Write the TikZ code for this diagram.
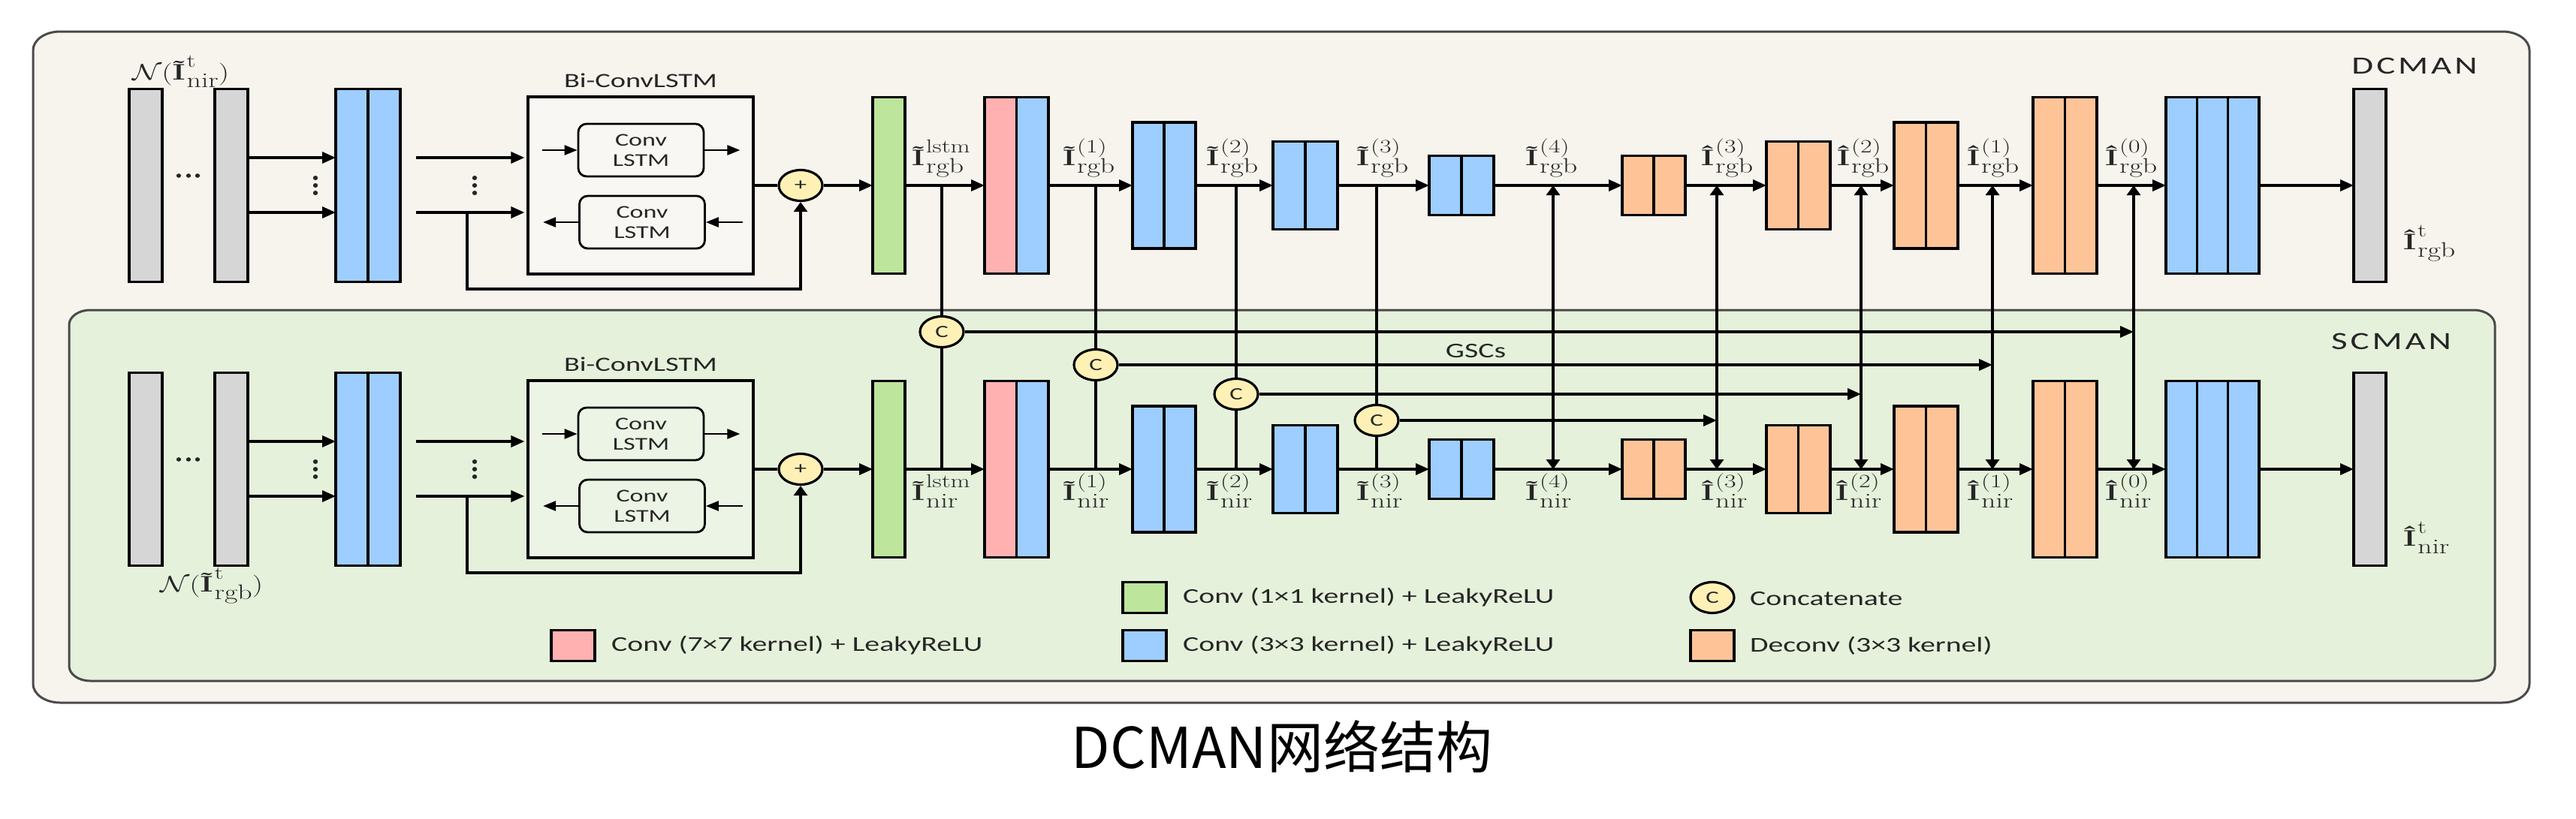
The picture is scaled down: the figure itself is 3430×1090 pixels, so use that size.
\IfFileExists{fix-cm.sty}{\RequirePackage{fix-cm}}{}
\documentclass[tikz,border=0pt]{standalone}
\usepackage{fontspec}
\usepackage{graphicx}
\usetikzlibrary{arrows.meta,calc,shapes.geometric}
\newfontfamily\cf[FakeStretch=1.42]{Carlito}
\newfontfamily\cfw[FakeStretch=1.42,LetterSpace=12]{Carlito}
\newfontfamily\cjk{Noto Sans CJK SC}
\definecolor{bgout}{HTML}{F7F4EE}
\definecolor{bgin}{HTML}{E5F1DB}
\definecolor{cgrey}{HTML}{D6D6D6}
\definecolor{cblue}{HTML}{9DCEFF}
\definecolor{cgreen}{HTML}{BDE59B}
\definecolor{cpink}{HTML}{FFB1B1}
\definecolor{corange}{HTML}{FFC398}
\definecolor{cyel}{HTML}{FFF1B5}
\definecolor{ink}{HTML}{262626}
\definecolor{frame}{HTML}{4A4A4A}
% accented I with stacked superscript / subscript
\newcommand\supsub[2]{%
  \setbox0\hbox{\fontsize{25}{25}\selectfont #1}%
  \setbox2\hbox{\fontsize{28}{28}\selectfont #2}%
  \dimen0=\wd0 \ifdim\wd2>\dimen0 \dimen0=\wd2 \fi
  \rlap{\raise17pt\box0}\rlap{\lower10pt\box2}\kern\dimen0 }
\newcommand\lbl[3]{\scalebox{1.35}[1]{\fontsize{30}{30}\selectfont\textbf{#1}\kern1.5pt\supsub{#2}{#3}}}
\newcommand\nlbl[3]{\scalebox{1.35}[1]{\fontsize{30}{30}\selectfont$\mathcal{N}$(\textbf{#1}\kern1.5pt\supsub{#2}{#3})}}
\newcommand\erect[7]{%
  \path[#7] ({#1+#5},#2) -- ({#3-#5},#2)
    arc[start angle=90,end angle=0,x radius=#5pt,y radius=#6pt] -- (#3,{#4-#6})
    arc[start angle=0,end angle=-90,x radius=#5pt,y radius=#6pt] -- ({#1+#5},#4)
    arc[start angle=-90,end angle=-180,x radius=#5pt,y radius=#6pt] -- (#1,{#2+#6})
    arc[start angle=180,end angle=90,x radius=#5pt,y radius=#6pt] -- cycle;}
\newcommand\blk[7]{% name, xleft, ycenter, height, unit width, n, colours
  \foreach \blkc [count=\blki from 0] in {#7} {
    \draw[blkline, fill=\blkc] ({#2+\blki*#5},{#3-#4/2}) rectangle ++(#5,#4);
  }
  \node[inner sep=0pt, outer sep=0pt, minimum width={#6*#5}, minimum height=#4, anchor=west] (#1) at (#2,#3) {};}
\tikzset{
  blkline/.style={line width=3.5pt, draw=black},
  flow/.style={line width=3.5pt, draw=black},
  harr/.style={-{Triangle[length=18pt,width=15pt]}},
  varr/.style={-{Triangle[length=13pt,width=18pt]}},
  dbl/.style={{Triangle[length=13pt,width=18pt]}-{Triangle[length=13pt,width=18pt]}},
  sarr/.style={line width=2.6pt, draw=black, -{Triangle[length=17pt,width=13pt]}},
  opnode/.style={ellipse, draw=black, line width=3.2pt, fill=cyel, minimum width=58pt, minimum height=41pt, inner sep=0pt, font=\cf\fontsize{23}{23}\selectfont, text=ink},
  lstmbox/.style={draw=black, line width=2.8pt, rounded corners=11pt, minimum width=167pt, minimum height=70pt, inner sep=0pt, align=center, font=\cf\fontsize{24}{27}\selectfont, text=ink},
  bibox/.style={draw=black, line width=3.2pt, fill=white, fill opacity=0.3, minimum width=300pt, minimum height=236pt, inner sep=0pt},
  lab/.style={anchor=base west, inner sep=0pt, text=ink},
  ttl/.style={anchor=base, inner sep=0pt, text=ink},
  leg/.style={anchor=west, inner sep=0pt, font=\cf\fontsize{28}{28}\selectfont, text=ink},
  legbox/.style={draw=black, line width=3.2pt, minimum width=58pt, minimum height=41pt, inner sep=0pt},
}
\begin{document}
\begin{tikzpicture}[x=1pt,y=-1pt]
\useasboundingbox (0,0) rectangle (3430,1090);
\fill[white] (0,0) rectangle (3430,1090);
\erect{44}{42}{3368}{936}{36}{25}{fill=bgout,draw=frame,line width=3pt}
\erect{92}{413}{3322}{907}{28}{20}{fill=bgin,draw=frame,line width=3pt}

\foreach \rw/\yc in {T/247,B/625}{
  % input frames and first conv
  \blk{ga\rw}{172}{\yc}{257}{44}{1}{cgrey}
  \blk{gb\rw}{286}{\yc}{257}{44}{1}{cgrey}
  \blk{ba\rw}{447}{\yc}{257}{43}{2}{cblue,cblue}
  \foreach \dx in {238,251,263} {\fill[ink] (\dx,{\yc-13}) ellipse [x radius=3.2pt, y radius=2.8pt];}
  \foreach \dy in {-10,0,10} {
    \fill[ink] (420,{\yc+(\dy)}) ellipse [x radius=3.2pt, y radius=3pt];
    \fill[ink] (632,{\yc+(\dy)}) ellipse [x radius=3.2pt, y radius=3pt];
  }
  \draw[flow,harr] ($(gb\rw.east)+(0,-37)$) -- ($(ba\rw.west)+(0,-37)$);
  \draw[flow,harr] ($(gb\rw.east)+(0,36)$) -- ($(ba\rw.west)+(0,36)$);
  % Bi-ConvLSTM
  \node[bibox] (bi\rw) at (853,\yc) {};
  \node[ttl,font=\cf\fontsize{27}{27}\selectfont] (bl\rw) at (853,{\yc-131}) {Bi-ConvLSTM};
  \node[lstmbox] (cu\rw) at (853.5,{\yc-47}) {Conv\\LSTM};
  \node[lstmbox] (cl\rw) at (855,{\yc+49}) {Conv\\LSTM};
  \draw[sarr] ($(cu\rw.west)+(-47,0)$) -- (cu\rw.west);
  \draw[sarr] (cu\rw.east) -- ++(47,0);
  \draw[sarr] ($(cl\rw.east)+(49,0)$) -- (cl\rw.east);
  \draw[sarr] (cl\rw.west) -- ++(-47,0);
  \draw[flow,harr] ($(ba\rw.east)+(21,-37)$) -- ($(bi\rw.west)+(-3,-37)$);
  \draw[flow,harr] ($(ba\rw.east)+(21,36)$) -- ($(bi\rw.west)+(-3,36)$);
  \node[opnode] (pl\rw) at (1066,\yc) {+};
  \coordinate (br\rw) at (622,{\yc+36});
  \coordinate (bd\rw) at (622,{\yc+138});
  \draw[flow,varr] (br\rw) -- (bd\rw) -| (pl\rw.south);
  \draw[flow] (bi\rw.east) -- (pl\rw.west);
  % encoder / decoder
  \blk{gr\rw}{1162}{\yc}{235}{43}{1}{cgreen}
  \blk{pb\rw}{1311}{\yc}{235}{42.5}{2}{cpink,cblue}
  \blk{bb\rw}{1508}{\yc}{168}{42}{2}{cblue,cblue}
  \blk{bc\rw}{1695}{\yc}{117}{43}{2}{cblue,cblue}
  \blk{bd\rw}{1903}{\yc}{79}{43}{2}{cblue,cblue}
  \blk{oa\rw}{2160}{\yc}{79}{42}{2}{corange,corange}
  \blk{ob\rw}{2352}{\yc}{117}{42.5}{2}{corange,corange}
  \blk{oc\rw}{2522}{\yc}{168}{42.5}{2}{corange,corange}
  \blk{od\rw}{2707}{\yc}{235}{42.5}{2}{corange,corange}
  \blk{be\rw}{2884}{\yc}{235}{41.3}{3}{cblue,cblue,cblue}
  \blk{go\rw}{3134}{\yc}{257}{43}{1}{cgrey}
  \foreach \pa/\pb in {pl/gr,gr/pb,pb/bb,bb/bc,bc/bd,bd/oa,oa/ob,ob/oc,oc/od,od/be,be/go}
    {\draw[flow,harr] (\pa\rw.east) -- (\pb\rw.west);}
  \coordinate (v0\rw) at (1254,\yc);
  \coordinate (v1\rw) at (1459,\yc);
  \coordinate (v2\rw) at (1646,\yc);
  \coordinate (v3\rw) at (1833,\yc);
  \coordinate (d4\rw) at (2068,\yc);
  \coordinate (d3\rw) at (2286,\yc);
  \coordinate (d2\rw) at (2478,\yc);
  \coordinate (d1\rw) at (2653,\yc);
  \coordinate (d0\rw) at (2841,\yc);
}

% concatenations (GSCs)
\node[opnode] (c0) at (1254,442) {C};
\node[opnode] (c1) at (1459,486) {C};
\node[opnode] (c2) at (1646,525) {C};
\node[opnode] (c3) at (1833,560) {C};
\foreach \i in {0,...,3} {\draw[flow] (v\i T) -- (c\i) -- (v\i B);}
\foreach \i in {0,...,4} {\draw[flow,dbl] (d\i B) -- (d\i T);}
\foreach \i in {0,...,3} {\draw[flow,harr] (c\i.east) -- (c\i.east -| d\i T);}
\node[font=\cf\fontsize{28}{28}\selectfont, text=ink] (gsc) at (1965,468) {GSCs};

% labels, DCMAN row
\node[lab] (n0T) at (176,106) {\nlbl{Ĩ}{t}{nir}};
\node[lab] (l0T) at (1214,220) {\lbl{Ĩ}{lstm}{rgb}};
\node[lab] (l1T) at (1415,220) {\lbl{Ĩ}{(1)}{rgb}};
\node[lab] (l2T) at (1606,220) {\lbl{Ĩ}{(2)}{rgb}};
\node[lab] (l3T) at (1806,220) {\lbl{Ĩ}{(3)}{rgb}};
\node[lab] (l4T) at (2031,220) {\lbl{Ĩ}{(4)}{rgb}};
\node[lab] (h3T) at (2265,220) {\lbl{Î}{(3)}{rgb}};
\node[lab] (h2T) at (2446,220) {\lbl{Î}{(2)}{rgb}};
\node[lab] (h1T) at (2619,220) {\lbl{Î}{(1)}{rgb}};
\node[lab] (h0T) at (2803,220) {\lbl{Î}{(0)}{rgb}};
\node[lab] (oT) at (3200,332) {\lbl{Î}{t}{rgb}};
\node[ttl,font=\cfw\fontsize{33}{33}\selectfont] (tD) at (3215,98) {DCMAN};

% labels, SCMAN row
\node[lab] (n0B) at (213,788) {\nlbl{Ĩ}{t}{rgb}};
\node[lab] (l0B) at (1214,666) {\lbl{Ĩ}{lstm}{nir}};
\node[lab] (l1B) at (1415,666) {\lbl{Ĩ}{(1)}{nir}};
\node[lab] (l2B) at (1606,666) {\lbl{Ĩ}{(2)}{nir}};
\node[lab] (l3B) at (1806,666) {\lbl{Ĩ}{(3)}{nir}};
\node[lab] (l4B) at (2031,666) {\lbl{Ĩ}{(4)}{nir}};
\node[lab] (h3B) at (2265,666) {\lbl{Î}{(3)}{nir}};
\node[lab] (h2B) at (2444,666) {\lbl{Î}{(2)}{nir}};
\node[lab] (h1B) at (2619,666) {\lbl{Î}{(1)}{nir}};
\node[lab] (h0B) at (2803,666) {\lbl{Î}{(0)}{nir}};
\node[lab] (oB) at (3200,727) {\lbl{Î}{t}{nir}};
\node[ttl,font=\cfw\fontsize{33}{33}\selectfont] (tS) at (3184,465) {SCMAN};

% legend
\node[legbox, fill=cgreen] (lgG) at (1524,796) {};
\node[leg] (ltG) at (1575,796) {Conv (1×1 kernel) + LeakyReLU};
\node[legbox, fill=cpink] (lgP) at (763,860) {};
\node[leg] (ltP) at (814,860) {Conv (7×7 kernel) + LeakyReLU};
\node[legbox, fill=cblue] (lgB) at (1524,860) {};
\node[leg] (ltB) at (1575,860) {Conv (3×3 kernel) + LeakyReLU};
\node[opnode] (lgC) at (2280,796) {C};
\node[leg] (ltC) at (2330,798) {Concatenate};
\node[legbox, fill=corange] (lgO) at (2280,860) {};
\node[leg] (ltO) at (2330,860) {Deconv (3×3 kernel)};

% caption
\node[anchor=base, inner sep=0pt, font=\cjk\fontsize{75}{75}\selectfont, text=black] (cap) at (1707,1023) {DCMAN网络结构};
\end{tikzpicture}
\end{document}
